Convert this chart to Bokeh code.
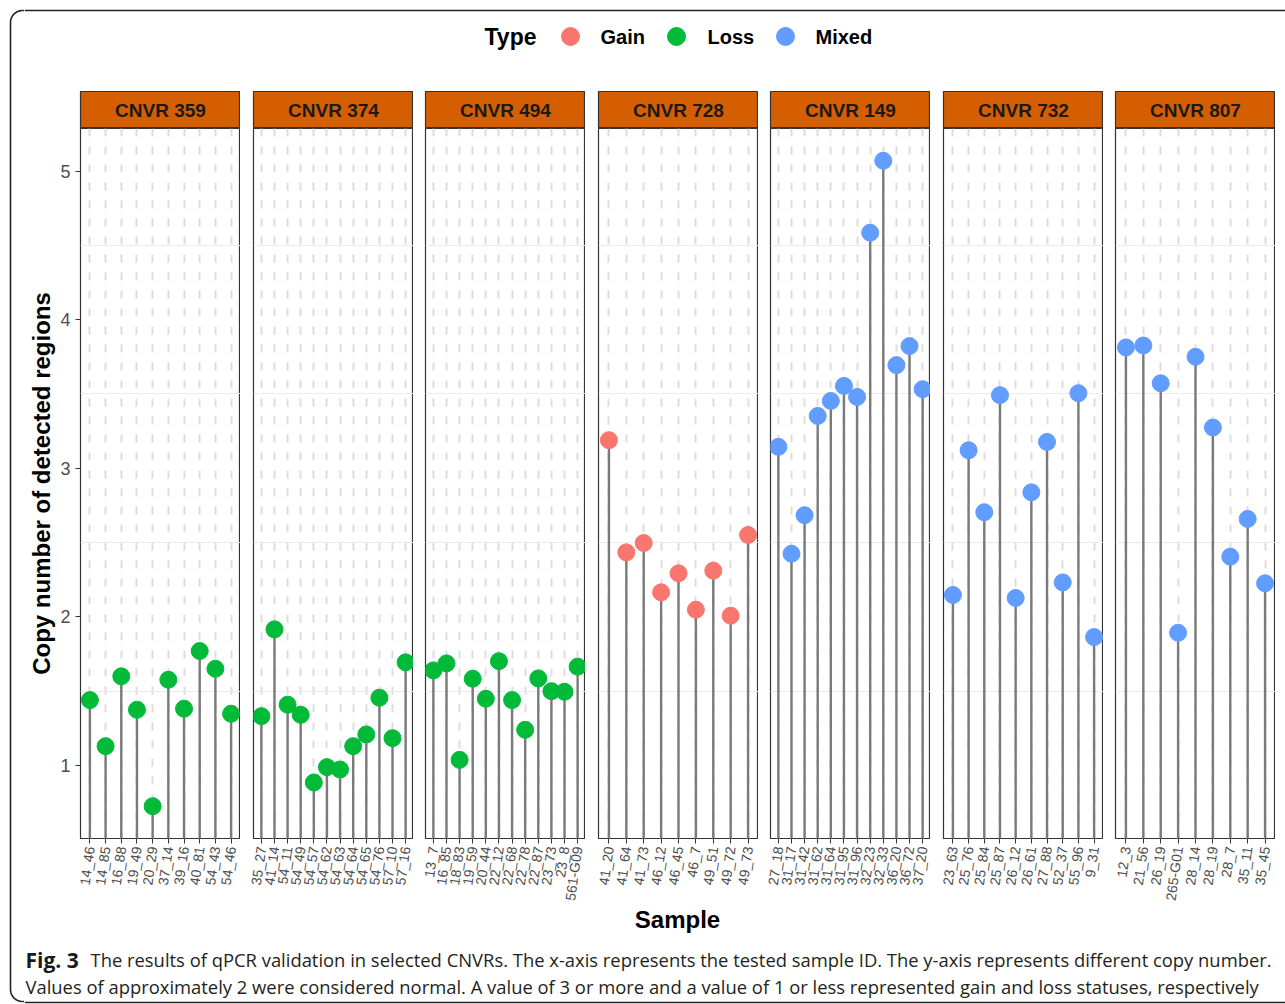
import numpy as np
from bokeh.plotting import figure
from bokeh.layouts import row, column
from bokeh.models import Range1d, FixedTicker, ColumnDataSource
from bokeh.core.properties import value
from bokeh.embed import file_html
from bokeh.resources import INLINE

# ---- data: qPCR copy number per sample, grouped by CNV region ----
regions = ["CNVR 359", "CNVR 374", "CNVR 494", "CNVR 728", "CNVR 149", "CNVR 732", "CNVR 807"]
region_types = ["Loss", "Loss", "Loss", "Gain", "Mixed", "Mixed", "Mixed"]

samples_359 = ["14_46", "14_85", "16_88", "19_49", "20_29", "37_14", "39_16", "40_81", "54_43", "54_46"]
copies_359 = [1.44, 1.13, 1.60, 1.375, 0.726, 1.577, 1.382, 1.77, 1.651, 1.348]

samples_374 = ["35_27", "41_14", "54_11", "54_49", "54_57", "54_62", "54_63", "54_64", "54_65", "54_76", "57_10", "57_16"]
copies_374 = [1.332, 1.916, 1.409, 1.341, 0.886, 0.989, 0.973, 1.13, 1.209, 1.456, 1.184, 1.694]

samples_494 = ["13_7", "16_85", "18_83", "19_59", "20_44", "22_12", "22_68", "22_78", "22_87", "23_73", "23_8", "561-G09"]
copies_494 = [1.64, 1.687, 1.038, 1.584, 1.449, 1.702, 1.44, 1.24, 1.586, 1.50, 1.496, 1.665]

samples_728 = ["41_20", "41_64", "41_73", "46_12", "46_45", "46_7", "49_51", "49_72", "49_73"]
copies_728 = [3.189, 2.434, 2.497, 2.165, 2.293, 2.048, 2.311, 2.008, 2.551]

samples_149 = ["27_18", "31_17", "31_42", "31_62", "31_64", "31_95", "31_96", "32_23", "32_33", "36_20", "36_72", "37_20"]
copies_149 = [3.144, 2.425, 2.684, 3.352, 3.453, 3.554, 3.480, 4.585, 5.069, 3.694, 3.822, 3.532]

samples_732 = ["23_63", "25_76", "25_84", "25_87", "26_12", "26_61", "27_88", "52_37", "55_96", "9_31"]
copies_732 = [2.147, 3.121, 2.704, 3.492, 2.127, 2.838, 3.177, 2.232, 3.505, 1.864]

samples_807 = ["12_3", "21_56", "26_19", "265-G01", "28_14", "28_19", "28_7", "35_11", "35_45"]
copies_807 = [3.813, 3.826, 3.572, 1.893, 3.750, 3.274, 2.405, 2.659, 2.226]

type_labels = ["Gain", "Loss", "Mixed"]
type_colors = ["#F8766D", "#00BA38", "#619CFF"]

all_samples = [samples_359, samples_374, samples_494, samples_728, samples_149, samples_732, samples_807]
all_copies = [copies_359, copies_374, copies_494, copies_728, copies_149, copies_732, copies_807]
color_of = dict(zip(type_labels, type_colors))

# ---- styling ----
FONT = value("Liberation Sans")
INK = "#333333"
FRAME_W, FRAME_H = 160, 710
LEFT_W = 24
CONTENT_W = 1285 - LEFT_W
gaps = [56, 13, 12, 13, 12, 13, 12]

# shared y scale with 5% expansion of the plotted values
flat = np.concatenate([np.asarray(c, dtype=float) for c in all_copies])
span = flat.max() - flat.min()
y_range = Range1d(flat.min() - 0.05 * span, flat.max() + 0.05 * span)
y_major = [1, 2, 3, 4, 5]
y_minor = [1.5, 2.5, 3.5, 4.5]


def blank(width, height, xr, yr):
    p = figure(width=width, height=height, x_range=xr, y_range=yr,
               output_backend="svg", toolbar_location=None,
               x_axis_location=None, y_axis_location=None, min_border=0)
    p.outline_line_color = None
    p.grid.grid_line_color = None
    p.background_fill_color = "white"
    p.border_fill_color = "white"
    return p


# ---- left edge of the rounded figure frame ----
r = 12
t = np.linspace(0, np.pi / 2, 20)
left = blank(LEFT_W, 1004, Range1d(0, LEFT_W), Range1d(1004, 0))
fx = list(10 + r - r * np.cos(t))
top_y = list(10 + r - r * np.sin(t))
bot_y = list(1001 - r + r * np.sin(t))
left.line(fx[::-1] + [10, 10] + fx, top_y[::-1] + [10 + r, 1001 - r] + bot_y,
          line_color="#222222", line_width=1.6)
left.segment(x0=[10 + r, 10 + r], y0=[10, 1001], x1=[LEFT_W, LEFT_W], y1=[10, 1001],
             line_color="#222222", line_width=1.6)

# ---- legend header ----
header = blank(CONTENT_W, 91, Range1d(LEFT_W, 1285), Range1d(91, 0))
header.segment(x0=[LEFT_W], y0=[10], x1=[1285], y1=[10], line_color="#222222", line_width=1.6)
header.text(x=[484], y=[36], text=["Type"], text_font=FONT, text_font_style="bold",
            text_font_size="23px", text_align="left", text_baseline="middle", text_color="black")
leg_src = ColumnDataSource(dict(mx=[570, 676, 785], tx=[600, 707, 815], y=[36, 36, 36],
                                lab=type_labels, col=type_colors))
header.scatter(x="mx", y="y", size=18, color="col", source=leg_src)
header.text(x="tx", y="y", text="lab", source=leg_src, text_font=FONT, text_font_style="bold",
            text_font_size="20px", text_align="left", text_baseline="middle", text_color="black")

# ---- facet strips and panels ----
strips, panels = [], []
for i, (name, kind, labs, vals) in enumerate(zip(regions, region_types, all_samples, all_copies)):
    n = len(labs)
    xs = list(range(1, n + 1))

    s = figure(frame_width=FRAME_W, frame_height=37, x_range=Range1d(0, 1), y_range=Range1d(0, 1),
               output_backend="svg", toolbar_location=None, x_axis_location=None, y_axis_location=None,
               min_border_left=gaps[i], min_border_right=0, min_border_top=0, min_border_bottom=0)
    s.grid.grid_line_color = None
    s.background_fill_color = "#D55E00"
    s.border_fill_color = "white"
    s.outline_line_color = INK
    s.outline_line_width = 1.2
    s.text(x=[0.5], y=[0.5], text=[name], text_font=FONT, text_font_style="bold",
           text_font_size="19px", text_align="center", text_baseline="middle", text_color="#1a1a1a")
    strips.append(s)

    p = figure(frame_width=FRAME_W, frame_height=FRAME_H, x_range=Range1d(0.4, n + 0.6), y_range=y_range,
               output_backend="svg", toolbar_location=None,
               min_border_left=gaps[i], min_border_right=0, min_border_top=0, min_border_bottom=66)
    p.background_fill_color = "white"
    p.border_fill_color = "white"
    p.outline_line_color = INK
    p.outline_line_width = 1.2

    src = ColumnDataSource(dict(x=xs, y=vals, base=[0] * n))
    p.segment(x0="x", y0="base", x1="x", y1="y", source=src, line_color="#7a7a7a", line_width=2.4)
    p.scatter(x="x", y="y", source=src, size=17, color=color_of[kind])

    xt = FixedTicker(ticks=xs)
    yt = FixedTicker(ticks=y_major, minor_ticks=y_minor)
    p.xaxis.ticker = xt
    p.xgrid.ticker = xt
    p.yaxis.ticker = yt
    p.ygrid.ticker = yt
    p.xaxis.major_label_overrides = {x: lab for x, lab in zip(xs, labs)}
    p.xaxis.major_label_orientation = 1.43
    p.xaxis.major_label_text_font_size = "14px"
    p.xaxis.major_label_text_font = "Liberation Sans"
    p.xaxis.major_label_text_color = "#4D4D4D"
    p.xaxis.major_label_standoff = 3
    p.axis.axis_line_color = None
    p.axis.major_tick_line_color = INK
    p.axis.major_tick_in = 0
    p.axis.major_tick_out = 5
    p.axis.minor_tick_line_color = None

    p.xgrid.grid_line_color = "#DDDDDD"
    p.xgrid.grid_line_width = 2
    p.xgrid.grid_line_dash = "8 10"
    p.ygrid.grid_line_color = None
    p.ygrid.minor_grid_line_color = "#EBEBEB"
    p.ygrid.minor_grid_line_width = 1.2

    if i == 0:
        p.yaxis.axis_label = "Copy number of detected regions"
        p.yaxis.axis_label_text_font = "Liberation Sans"
        p.yaxis.axis_label_text_font_style = "bold"
        p.yaxis.axis_label_text_font_size = "24px"
        p.yaxis.axis_label_text_color = "black"
        p.yaxis.axis_label_standoff = 2
        p.yaxis.major_label_text_font = "Liberation Sans"
        p.yaxis.major_label_text_font_size = "18px"
        p.yaxis.major_label_text_color = "#4D4D4D"
        p.yaxis.major_label_standoff = 5
    else:
        p.yaxis.visible = False
    panels.append(p)

# ---- x axis title and caption ----
xlab = blank(CONTENT_W, 33, Range1d(LEFT_W, 1285), Range1d(937, 904))
xlab.text(x=[677], y=[918], text=["Sample"], text_font=FONT, text_font_style="bold",
          text_font_size="24px", text_align="center", text_baseline="middle", text_color="black")

caption = blank(CONTENT_W, 67, Range1d(LEFT_W, 1285), Range1d(1004, 937))
CAP = value("Open Sans")
caption.text(x=[25], y=[958], text=["Fig. 3"], text_font=CAP, text_font_style="bold",
             text_font_size="21px", text_align="left", text_baseline="middle", text_color="#1a1a1a")
caption.text(x=[90, 25], y=[958, 985],
             text=["The results of qPCR validation in selected CNVRs. The x-axis represents the tested sample ID. "
                   "The y-axis represents different copy number.",
                   "Values of approximately 2 were considered normal. A value of 3 or more and a value of 1 or less "
                   "represented gain and loss statuses, respectively"],
             text_font=CAP, text_font_size="18.4px", text_align="left", text_baseline="middle",
             text_color="#231F20")
caption.segment(x0=[LEFT_W], y0=[1001], x1=[1285], y1=[1001], line_color="#222222", line_width=1.6)

layout = row(left, column(header, row(*strips), row(*panels), xlab, caption))

open("out.html", "w").write(file_html(layout, INLINE))
